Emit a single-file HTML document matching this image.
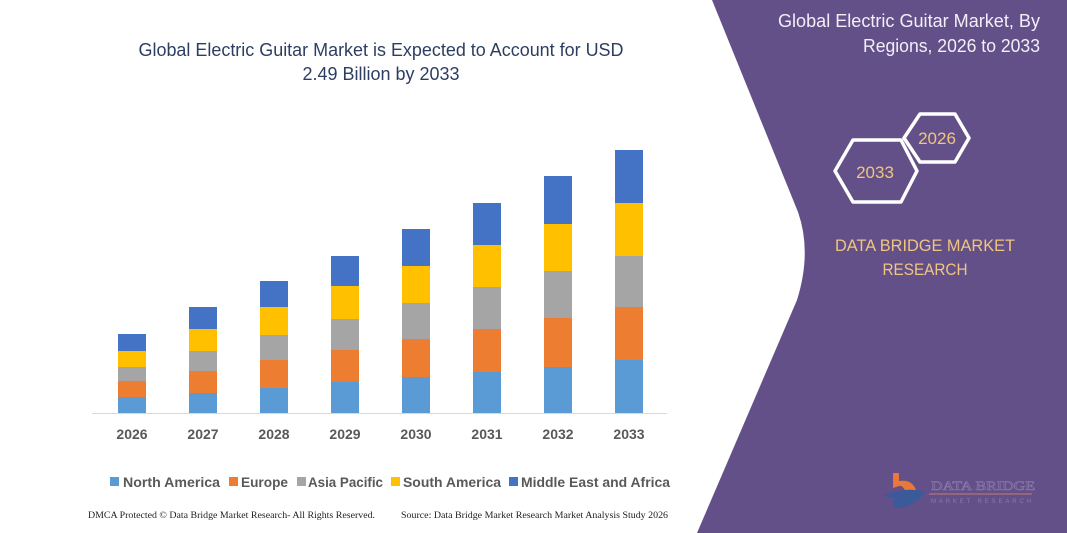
<!DOCTYPE html>
<html><head><meta charset="utf-8"><style>
html,body{margin:0;padding:0;background:#fff;}
svg{display:block;}
</style></head><body>
<svg width="1067" height="533" viewBox="0 0 1067 533" xmlns="http://www.w3.org/2000/svg">
<rect width="1067" height="533" fill="#fff"/>
<path d="M712,0 L1067,0 L1067,533 L697,533 L797,300 Q812,252 798,212 Z" fill="#645088"/>
<g font-family="Liberation Sans, sans-serif" fill="#2d3e62" font-size="18" text-anchor="middle">
<text x="381" y="56" textLength="485" lengthAdjust="spacingAndGlyphs">Global Electric Guitar Market is Expected to Account for USD</text>
<text x="381" y="80" textLength="157" lengthAdjust="spacingAndGlyphs">2.49 Billion by 2033</text>
</g>
<g font-family="Liberation Sans, sans-serif" fill="#f2eef8" font-size="18" text-anchor="end">
<text x="1040" y="27" textLength="262" lengthAdjust="spacingAndGlyphs">Global Electric Guitar Market, By</text>
<text x="1040" y="52" textLength="177" lengthAdjust="spacingAndGlyphs">Regions, 2026 to 2033</text>
</g>
<polygon points="835,171 853,140 901,140 917,171 901,202 853,202" fill="none" stroke="#fff" stroke-width="3.5" stroke-linejoin="round"/>
<polygon points="904,138 920,114 955,114 969,138 955,162 920,162" fill="none" stroke="#fff" stroke-width="3.5" stroke-linejoin="round"/>
<g font-family="Liberation Sans, sans-serif" fill="#efc57f" font-size="17" text-anchor="middle">
<text x="875" y="178">2033</text>
<text x="937" y="144">2026</text>
<text x="925" y="251" textLength="180" lengthAdjust="spacingAndGlyphs">DATA BRIDGE MARKET</text>
<text x="925" y="275" textLength="85" lengthAdjust="spacingAndGlyphs">RESEARCH</text>
</g>
<path d="M893,473 L899,473 L899,481 Q912,479 916,490 L905,490 Q902,485 899,486 L893,488 Z" fill="#e8793a"/>
<path d="M883,496 Q905,486 925,492 Q916,506 898,508 Q890,506 894,498 Z" fill="#3a5a9a"/>
<text x="931" y="490" font-family="Liberation Serif, serif" font-size="13" fill="none" stroke="#8a7aa8" stroke-width="0.6" textLength="104" lengthAdjust="spacingAndGlyphs">DATA BRIDGE</text>
<line x1="929" y1="494" x2="1032" y2="494" stroke="#c87a6a" stroke-width="1"/>
<text x="931" y="503" font-family="Liberation Sans, sans-serif" font-size="6" fill="#8a7aa8" textLength="100" lengthAdjust="spacing">MARKET RESEARCH</text>

<line x1="92" y1="413.5" x2="667" y2="413.5" stroke="#d9d9d9" stroke-width="1"/>
<g font-family="Liberation Sans, sans-serif" font-weight="bold" font-size="14" fill="#595959" text-anchor="middle">
<text x="132" y="439">2026</text><text x="203" y="439">2027</text><text x="274" y="439">2028</text><text x="345" y="439">2029</text>
<text x="416" y="439">2030</text><text x="487" y="439">2031</text><text x="558" y="439">2032</text><text x="629" y="439">2033</text>
</g>
<g font-family="Liberation Sans, sans-serif" font-weight="bold" font-size="14" fill="#595959">
<rect x="110" y="477" width="9" height="9" fill="#5b9bd5"/><text x="123" y="487" textLength="97" lengthAdjust="spacingAndGlyphs">North America</text>
<rect x="229" y="477" width="9" height="9" fill="#ed7d31"/><text x="241" y="487" textLength="47" lengthAdjust="spacingAndGlyphs">Europe</text>
<rect x="297" y="477" width="9" height="9" fill="#a5a5a5"/><text x="308" y="487" textLength="75" lengthAdjust="spacingAndGlyphs">Asia Pacific</text>
<rect x="391" y="477" width="9" height="9" fill="#ffc000"/><text x="403" y="487" textLength="98" lengthAdjust="spacingAndGlyphs">South America</text>
<rect x="509" y="477" width="9" height="9" fill="#4472c4"/><text x="521" y="487" textLength="149" lengthAdjust="spacingAndGlyphs">Middle East and Africa</text>
</g>
<g font-family="Liberation Serif, serif" font-size="9.5" fill="#222">
<text x="88" y="518" textLength="287" lengthAdjust="spacingAndGlyphs">DMCA Protected © Data Bridge Market Research-  All Rights Reserved.</text>
<text x="401" y="518" textLength="267" lengthAdjust="spacingAndGlyphs">Source: Data Bridge Market Research  Market Analysis Study 2026</text>
</g>
<g>
<rect x="118" y="334" width="28" height="17" fill="#4472c4"/><rect x="118" y="351" width="28" height="16" fill="#ffc000"/><rect x="118" y="367" width="28" height="14" fill="#a5a5a5"/><rect x="118" y="381" width="28" height="16" fill="#ed7d31"/><rect x="118" y="397" width="28" height="16" fill="#5b9bd5"/>
<rect x="189" y="307" width="28" height="22" fill="#4472c4"/><rect x="189" y="329" width="28" height="22" fill="#ffc000"/><rect x="189" y="351" width="28" height="20" fill="#a5a5a5"/><rect x="189" y="371" width="28" height="22" fill="#ed7d31"/><rect x="189" y="393" width="28" height="20" fill="#5b9bd5"/>
<rect x="260" y="281" width="28" height="26" fill="#4472c4"/><rect x="260" y="307" width="28" height="28" fill="#ffc000"/><rect x="260" y="335" width="28" height="25" fill="#a5a5a5"/><rect x="260" y="360" width="28" height="28" fill="#ed7d31"/><rect x="260" y="388" width="28" height="25" fill="#5b9bd5"/>
<rect x="331" y="256" width="28" height="30" fill="#4472c4"/><rect x="331" y="286" width="28" height="33" fill="#ffc000"/><rect x="331" y="319" width="28" height="31" fill="#a5a5a5"/><rect x="331" y="350" width="28" height="32" fill="#ed7d31"/><rect x="331" y="382" width="28" height="31" fill="#5b9bd5"/>
<rect x="402" y="229" width="28" height="37" fill="#4472c4"/><rect x="402" y="266" width="28" height="37" fill="#ffc000"/><rect x="402" y="303" width="28" height="36" fill="#a5a5a5"/><rect x="402" y="339" width="28" height="38" fill="#ed7d31"/><rect x="402" y="377" width="28" height="36" fill="#5b9bd5"/>
<rect x="473" y="203" width="28" height="42" fill="#4472c4"/><rect x="473" y="245" width="28" height="42" fill="#ffc000"/><rect x="473" y="287" width="28" height="42" fill="#a5a5a5"/><rect x="473" y="329" width="28" height="43" fill="#ed7d31"/><rect x="473" y="372" width="28" height="41" fill="#5b9bd5"/>
<rect x="544" y="176" width="28" height="48" fill="#4472c4"/><rect x="544" y="224" width="28" height="47" fill="#ffc000"/><rect x="544" y="271" width="28" height="47" fill="#a5a5a5"/><rect x="544" y="318" width="28" height="49" fill="#ed7d31"/><rect x="544" y="367" width="28" height="46" fill="#5b9bd5"/>
<rect x="615" y="150" width="28" height="53" fill="#4472c4"/><rect x="615" y="203" width="28" height="53" fill="#ffc000"/><rect x="615" y="256" width="28" height="51" fill="#a5a5a5"/><rect x="615" y="307" width="28" height="53" fill="#ed7d31"/><rect x="615" y="360" width="28" height="53" fill="#5b9bd5"/>
</g>
</svg>
</body></html>
